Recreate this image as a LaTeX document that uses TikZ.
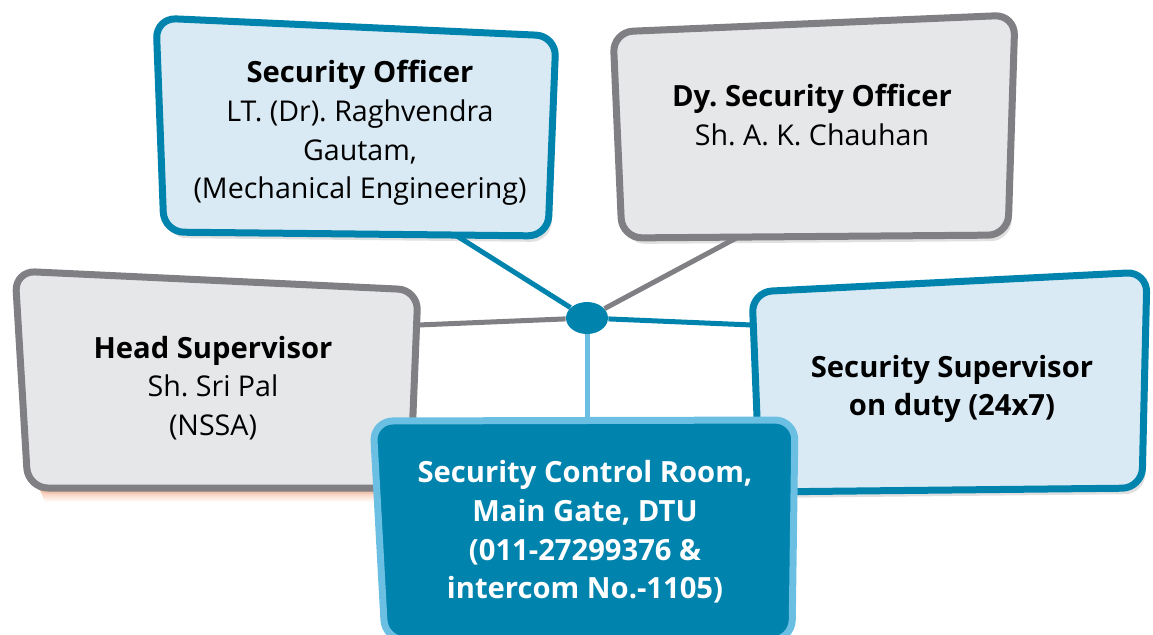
\documentclass[tikz,border=0pt]{standalone}
\usepackage{fontspec}
\setmainfont{Open Sans}
\usetikzlibrary{shapes.geometric}
\definecolor{dblue}{RGB}{0,131,173}
\definecolor{lblue}{RGB}{217,234,244}
\definecolor{gline}{RGB}{128,128,132}
\definecolor{gfill}{RGB}{230,231,233}
\definecolor{cborder}{RGB}{107,191,227}
\definecolor{peach}{RGB}{244,170,130}
\begin{document}
\frenchspacing
\begin{tikzpicture}[x=0.5pt,y=-0.5pt,
  bluebox/.style={draw=dblue,fill=lblue,line width=3.5pt,rounded corners=10pt},
  graybox/.style={draw=gline,fill=gfill,line width=3.5pt,rounded corners=10pt},
  ctrlbox/.style={draw=cborder,fill=dblue,line width=3.5pt,rounded corners=10pt},
  boxshadow/.style={fill=black,opacity=0.12,rounded corners=10pt},
  txt/.style={align=center,font=\fontsize{14.3}{19.3}\selectfont,text=black,inner sep=0pt},
  btxt/.style={align=center,font=\fontsize{14.6}{19.3}\selectfont\bfseries,inner sep=0pt},
  conn/.style={line width=2.5pt},
  hubnode/.style={ellipse,fill=dblue,minimum width=21pt,minimum height=16pt,inner sep=0pt}]
\useasboundingbox (0,0) rectangle (1153,634);

% shadows
\fill[boxshadow] (159,22) -- (559,40) -- (551,242) -- (167,238) -- cycle;
\fill[boxshadow] (616,36) -- (1018,19) -- (1011,241) -- (625,244) -- cycle;
\fill[boxshadow] (18,275) -- (421,294) -- (413,494) -- (31,494) -- cycle;
\fill[boxshadow] (755,296) -- (1150,276) -- (1145,494) -- (763,498) -- cycle;
\shade[top color=peach,bottom color=white,opacity=0.7] (40,490) -- (405,490) -- (403,502) -- (45,502) -- cycle;

% boxes
\draw[bluebox] (156,18) -- (556,36) -- (548,236) -- (164,232) -- cycle;
\draw[graybox] (613,32) -- (1015,15) -- (1008,235) -- (622,238) -- cycle;
\draw[graybox] (15,271) -- (418,290) -- (410,488) -- (28,488) -- cycle;
\draw[bluebox] (752,292) -- (1147,272) -- (1142,488) -- (760,492) -- cycle;

% connection points
\coordinate (p1) at (457,236);
\coordinate (p2) at (740,236);
\coordinate (p3) at (418,325);
\coordinate (p4) at (752,325);
\coordinate (p5) at (587,421);

\node[hubnode] (hub) at (587,318) {};

\draw[conn,dblue] (hub) -- (p1);
\draw[conn,gline] (hub) -- (p2);
\draw[conn,gline] (hub) -- (p3);
\draw[conn,dblue] (hub) -- (p4);
\draw[conn,cborder] (hub) -- (p5);

% control room box
\draw[ctrlbox] (373,421) -- (795,420) -- (792,640) -- (385,640) -- cycle;

% texts
\node[txt] (t1) at (360,133) {{\fontsize{14.6}{19.3}\selectfont\bfseries Security Officer}\\LT. (Dr). Raghvendra\\Gautam,\\(Mechanical Engineering)};
\node[txt] (t2) at (812,115) {{\fontsize{14.6}{19.3}\selectfont\bfseries Dy. Security Officer}\\Sh. A. K. Chauhan};
\node[txt] (t3) at (213,388) {{\fontsize{14.6}{19.3}\selectfont\bfseries Head Supervisor}\\Sh. Sri Pal\\(NSSA)};
\node[btxt,text=black] (t4) at (952,389) {Security Supervisor\\on duty (24x7)};
\node[btxt,text=white] (t5) at (585,532) {Security Control Room,\\Main Gate, DTU\\(011-27299376 \&\\intercom No.-1105)};
\end{tikzpicture}
\end{document}
